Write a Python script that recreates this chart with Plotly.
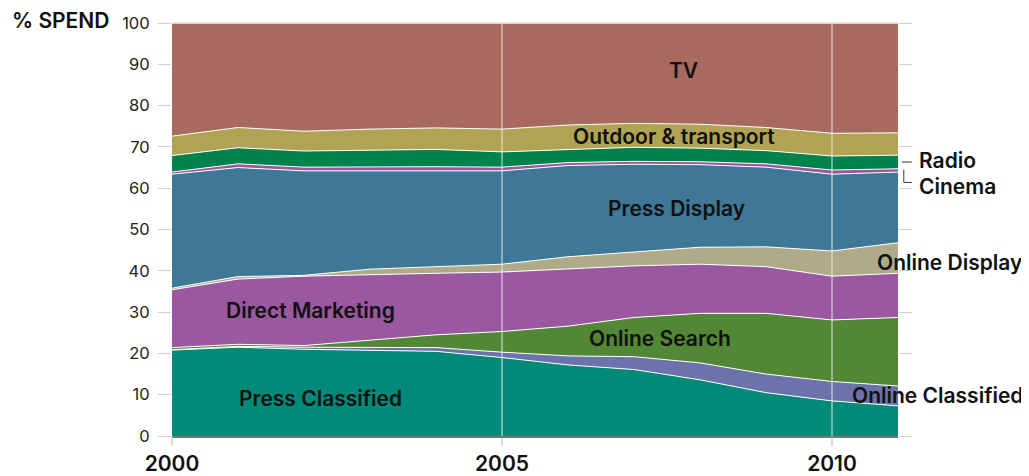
import plotly.graph_objects as go

# =======================
# Dati (quota % della spesa pubblicitaria)
# =======================
years = [2000, 2001, 2002, 2003, 2004, 2005, 2006, 2007, 2008, 2009, 2010, 2011]

press_classified = [20.8, 21.5, 21.0, 20.7, 20.5, 19.0, 17.2, 16.1, 13.6, 10.5, 8.5, 7.3]
online_classified = [0.1, 0.2, 0.5, 0.7, 0.9, 1.3, 2.2, 3.1, 4.1, 4.5, 4.7, 4.8]
online_search = [0.5, 0.5, 0.4, 1.8, 3.1, 5.0, 7.2, 9.5, 12.0, 14.7, 14.9, 16.6]
direct_marketing = [14.0, 15.8, 16.8, 15.9, 14.9, 14.4, 13.8, 12.5, 11.9, 11.3, 10.6, 10.7]
online_display = [0.4, 0.6, 0.2, 1.3, 1.6, 1.9, 3.0, 3.4, 4.1, 4.8, 6.1, 7.4]
press_display = [27.6, 26.4, 25.3, 23.8, 23.2, 22.6, 22.1, 21.2, 20.0, 19.3, 18.6, 17.1]
cinema = [0.5, 0.9, 0.9, 1.0, 1.0, 0.9, 0.7, 0.7, 0.7, 0.8, 1.0, 0.8]
radio = [4.0, 3.9, 3.9, 4.0, 4.2, 3.7, 3.2, 3.4, 3.3, 3.2, 3.4, 3.3]
outdoor = [4.7, 4.9, 4.8, 5.1, 5.2, 5.5, 5.9, 5.8, 5.8, 5.6, 5.5, 5.4]
tv = [27.4, 25.3, 26.2, 25.7, 25.4, 25.7, 24.7, 24.3, 24.5, 25.3, 26.7, 26.6]

# serie dal basso verso l'alto
series = [
    ("Press Classified", press_classified, "#008a77"),
    ("Online Classified", online_classified, "#6c73aa"),
    ("Online Search", online_search, "#528736"),
    ("Direct Marketing", direct_marketing, "#9a58a0"),
    ("Online Display", online_display, "#afaa88"),
    ("Press Display", press_display, "#3f7896"),
    ("Cinema", cinema, "#9b55a2"),
    ("Radio", radio, "#00834b"),
    ("Outdoor & transport", outdoor, "#b0a353"),
    ("TV", tv, "#a86a5f"),
]

y_ticks = [0, 10, 20, 30, 40, 50, 60, 70, 80, 90, 100]
x_ticks = [2000, 2005, 2010]

FONT = "Inter"
LABEL_FONT = dict(family=FONT, size=21, color="#111", weight=600)

fig = go.Figure()

for name, vals, col in series:
    fig.add_trace(go.Scatter(
        x=years, y=vals, name=name, mode="lines",
        stackgroup="one", fillcolor=col,
        line=dict(color="white", width=1),
        hoverinfo="x+y+name",
    ))

# etichette dentro le aree
inside = [
    ("TV", 2007.75, 88.6),
    ("Outdoor & transport", 2007.6, 72.6),
    ("Press Display", 2007.65, 55.0),
    ("Direct Marketing", 2002.1, 30.3),
    ("Online Search", 2007.4, 23.5),
    ("Press Classified", 2002.25, 9.2),
]
for txt, xx, yy in inside:
    fig.add_annotation(x=xx, y=yy, text=txt, showarrow=False, font=LABEL_FONT)

# etichette a destra (dentro il range dell'asse)
side = [
    ("Online Display", 2010.65, 42.1),
    ("Online Classified", 2010.27, 9.7),
]
for txt, xx, yy in side:
    fig.add_annotation(x=xx, y=yy, text=txt, showarrow=False, xanchor="left",
                       font=LABEL_FONT)

# Radio e Cinema fuori dall'area del grafico -> coordinate paper
for txt, yy in [("Radio", 0.666), ("Cinema", 0.605)]:
    fig.add_annotation(x=1.026, y=yy, xref="paper", yref="paper", text=txt,
                       showarrow=False, xanchor="left", font=LABEL_FONT)

fig.add_annotation(x=-0.223, y=1.007, xref="paper", yref="paper", text="% SPEND",
                   showarrow=False, xanchor="left", yanchor="middle",
                   font=dict(family=FONT, size=21, color="#111", weight=600))

# linee verticali sopra le aree
for xv in [2005, 2010]:
    fig.add_shape(type="line", x0=xv, x1=xv, y0=0, y1=100, xref="x", yref="y",
                  layer="above", line=dict(color="rgba(235,235,235,0.65)", width=1.5))
fig.add_shape(type="line", x0=0, x1=1, y0=1, y1=1, xref="paper", yref="paper",
              layer="above", line=dict(color="#dddddd", width=1.5))

# linee guida Radio / Cinema
fig.add_shape(type="line", x0=1.0055, x1=1.019, y0=0.6634, y1=0.6634,
              xref="paper", yref="paper", line=dict(color="#333", width=1))
fig.add_shape(type="path", path="M 1.008,0.645 L 1.008,0.614 L 1.019,0.614",
              xref="paper", yref="paper", line=dict(color="#333", width=1))

# la pagina html ha 8px di margine sul body
fig.update_layout(
    width=1029, height=476,
    margin=dict(l=164, r=139, t=15, b=48),
    paper_bgcolor="white", plot_bgcolor="white",
    showlegend=False,
    font=dict(family=FONT, color="#222"),
    xaxis=dict(
        range=[2000, 2011], tickvals=x_ticks, ticktext=[str(v) for v in x_ticks],
        showgrid=False, zeroline=False, automargin=False,
        showline=True, linecolor="#777", linewidth=2,
        ticks="outside", ticklen=8, tickcolor="#dddddd", tickwidth=1.5,
        tickfont=dict(family=FONT, size=21, color="#111", weight=600),
    ),
    yaxis=dict(
        range=[0, 100], tickvals=y_ticks, showgrid=False, zeroline=False,
        automargin=False,
        ticks="outside", ticklen=13, tickcolor="#d0d0d0", tickwidth=1,
        ticklabelstandoff=5,
        mirror="ticks", showline=False,
        tickfont=dict(family=FONT, size=16.5, color="#222"),
    ),
)

fig.write_html("out.html")
